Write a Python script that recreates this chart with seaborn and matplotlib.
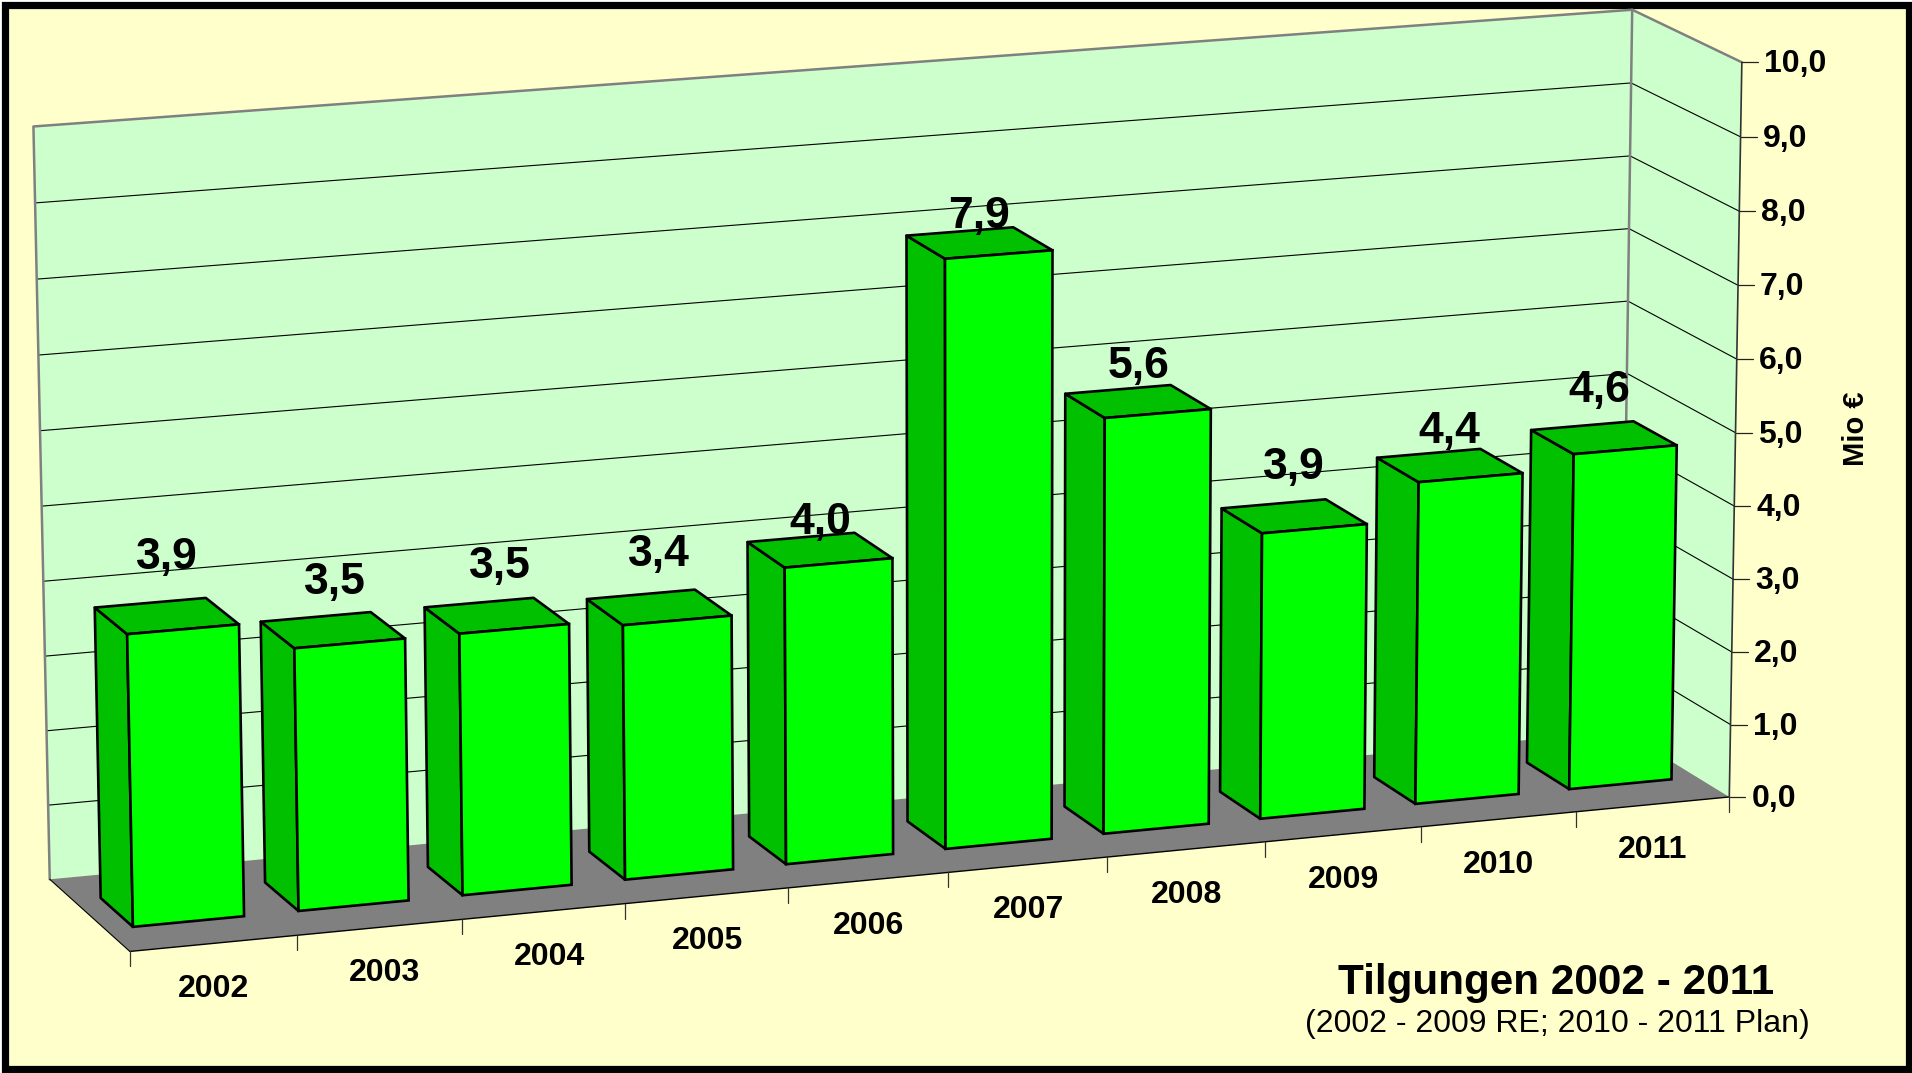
"""Tilgungen 2002 - 2011: seaborn bars pushed through a perspective projection."""

import matplotlib

matplotlib.use("Agg")
import matplotlib.pyplot as plt
import numpy as np
import seaborn as sns
from matplotlib.patches import Polygon, Rectangle
from matplotlib.transforms import Affine2D, Transform

YEARS = ["2002", "2003", "2004", "2005", "2006", "2007", "2008", "2009", "2010", "2011"]
VALUES = [3.88, 3.5, 3.5, 3.42, 4.0, 7.94, 5.64, 3.9, 4.41, 4.61]
Y_TICKS = [0, 1, 2, 3, 4, 5, 6, 7, 8, 9, 10]
LABEL_LIFT = [58, 48, 49, 53, 28, 26, 35, 49, 34, 47]  # px above the bar top, uneven in the source
LABEL_NUDGE = [0, 2, 3, 0, 1, 0, 1, 0, 0, -4]  # px sideways
YEAR_NUDGE = [0, 5, 6, 1, 1, 1, 0, 0, 0, 0]  # px sideways

W, H = 1912, 1073
X0, X1 = -0.5, 9.5
Y_MAX = 10
BAR_Z = (0.3, 0.7)

BG = "#FFFFCC"
WALL = "#CCFFCC"
FLOOR = "#808080"
FRONT = "#00FF00"
SHADE = "#00C000"

# box corners (x, y, depth) -> where they land in the picture, used to calibrate the camera
CALIB = [
    ((X0, 0, 0), (130, 951.7)),
    ((X1, 0, 0), (1728, 797)),
    ((X1, Y_MAX, 0), (1743, 62)),
    ((X0, 0, 1), (49.5, 879)),
    ((X0, Y_MAX, 1), (33.5, 126.5)),
    ((X1, Y_MAX, 1), (1631, 10)),
    ((X1, 0, 1), (1623, 731)),
]


def fit_camera(pairs):
    rows = []
    for (x, y, z), (u, v) in pairs:
        u, v = u / 1000, v / 1000
        rows.append([x, y, z, 1, 0, 0, 0, 0, -u * x, -u * y, -u * z, -u])
        rows.append([0, 0, 0, 0, x, y, z, 1, -v * x, -v * y, -v * z, -v])
    _, _, vt = np.linalg.svd(np.array(rows, dtype=float))
    return vt[-1].reshape(3, 4)


CAMERA = fit_camera(CALIB)


def project(x, y, z):
    """World coordinates -> picture pixels (y down)."""
    x, y, z = np.broadcast_arrays(np.asarray(x, float), np.asarray(y, float), np.asarray(z, float))
    pts = np.stack([x, y, z, np.ones_like(x)], axis=-1) @ CAMERA.T
    return pts[..., 0] / pts[..., 2] * 1000, pts[..., 1] / pts[..., 2] * 1000


class DepthPlane(Transform):
    """Data coords of the axes -> display, on the plane at a fixed depth."""

    input_dims = 2
    output_dims = 2
    has_inverse = False

    def __init__(self, z):
        super().__init__()
        self.z = z

    def transform_non_affine(self, values):
        values = np.asarray(values, float)
        u, v = project(values[:, 0], values[:, 1], self.z)
        return np.column_stack([u, H - v])


sns.set_theme(style="white")
plt.rcParams["font.family"] = ["Liberation Sans", "DejaVu Sans"]

fig, ax = plt.subplots(figsize=(W / 100, H / 100), dpi=100)
fig.patch.set_facecolor("white")
ax.set_position([0, 0, 1, 1])
screen = Affine2D().scale(1, -1).translate(0, H)


def face(pts, color, edge="none", lw=0.0, zorder=2):
    ax.add_patch(Polygon(np.column_stack(pts), closed=True, facecolor=color, edgecolor=edge,
                         linewidth=lw, transform=screen, zorder=zorder, clip_on=False,
                         joinstyle="round"))


def line(pts, color="black", lw=0.8, zorder=3):
    ax.plot(pts[0], pts[1], color=color, lw=lw, transform=screen, zorder=zorder,
            clip_on=False, solid_capstyle="round", scalex=False, scaley=False)


def label(x, y, text, size, **kw):
    kw.setdefault("ha", "center")
    ax.text(x, y, text, transform=screen, va="center", fontsize=size, color="black",
            clip_on=False, zorder=9, **kw)


sns.barplot(x=YEARS, y=VALUES, width=0.67, color=FRONT, saturation=1, edgecolor="black",
            linewidth=1.9, ax=ax, zorder=6)
bars = list(ax.containers[0])
ax.set_axis_off()

# frame
ax.add_patch(Rectangle((4.5, 4.5), 1904.5, 1064.5, facecolor=BG, edgecolor="black", linewidth=5.2,
                       transform=screen, zorder=0, clip_on=False))

# walls and floor
face(project([X0, X1, X1, X0], [0, 0, Y_MAX, Y_MAX], 1), WALL, zorder=1)
face(project(X1, [0, Y_MAX, Y_MAX, 0], [1, 1, 0, 0]), WALL, zorder=1)
face(project([X0, X1, X1, X0], 0, [0, 0, 1, 1]), FLOOR, zorder=1.5)

for v in Y_TICKS[1:-1]:
    line(project([X0, X1, X1], v, [1, 1, 0]), lw=0.8, zorder=2)

line(project([X0, X0, X1, X1], [0, Y_MAX, Y_MAX, 0], 1), color=FLOOR, lw=1.8, zorder=2.2)
line(project(X1, Y_MAX, [1, 0]), color=FLOOR, lw=1.8, zorder=2.2)
line(project(X0, 0, [1, 0]), lw=0.8, zorder=2.2)
line(project([X0, X1], 0, 0), lw=1.0, zorder=2.2)
line(project(X1, [0, Y_MAX], 0), color="#333333", lw=1.2, zorder=2.2)

# y ticks and labels
for v in Y_TICKS:
    u, w = project(X1, v, 0)
    line(([u, u + 16], [w, w]), color="#222222", lw=0.9)
    label(u + 22, w + 2, f"{v:.1f}".replace(".", ","), 23, ha="left", fontweight="bold")

# x ticks on category edges, year labels between them
for i in range(len(YEARS) + 1):
    u, w = project(X0 + i, 0, 0)
    line(([u, u], [w, w + 15]), color="#333333", lw=0.9)
for i, (year, nudge) in enumerate(zip(YEARS, YEAR_NUDGE)):
    u, w = project(i, 0, 0)
    label(u + nudge, w + 45.5, year, 23, fontweight="bold")

# extrude seaborn's bars: side and top faces come from each bar's own rectangle
z0, z1 = BAR_Z
for bar, value, lift, nudge in zip(bars, VALUES, LABEL_LIFT, LABEL_NUDGE):
    left, right, top = bar.get_x(), bar.get_x() + bar.get_width(), bar.get_height()
    bar.set_transform(DepthPlane(z0))
    bar.set_clip_on(False)
    face(project(left, [0, top, top, 0], [z0, z0, z1, z1]), SHADE, "black", 1.9, zorder=5)
    face(project([left, right, right, left], top, [z0, z0, z1, z1]), SHADE, "black", 1.9, zorder=5)
    u, w = project((left + right) / 2, top, (z0 + z1) / 2)
    label(u + nudge, w - lift, f"{value:.1f}".replace(".", ","), 32, fontweight="bold")

label(1856, 429, "Mio €", 21, rotation=90, fontweight="bold")
label(1556, 983, "Tilgungen 2002 - 2011", 30.4, fontweight="bold")
label(1557, 1024, "(2002 - 2009 RE; 2010 - 2011 Plan)", 23)

fig.savefig("out.png", dpi=100, facecolor="white")
plt.close(fig)
